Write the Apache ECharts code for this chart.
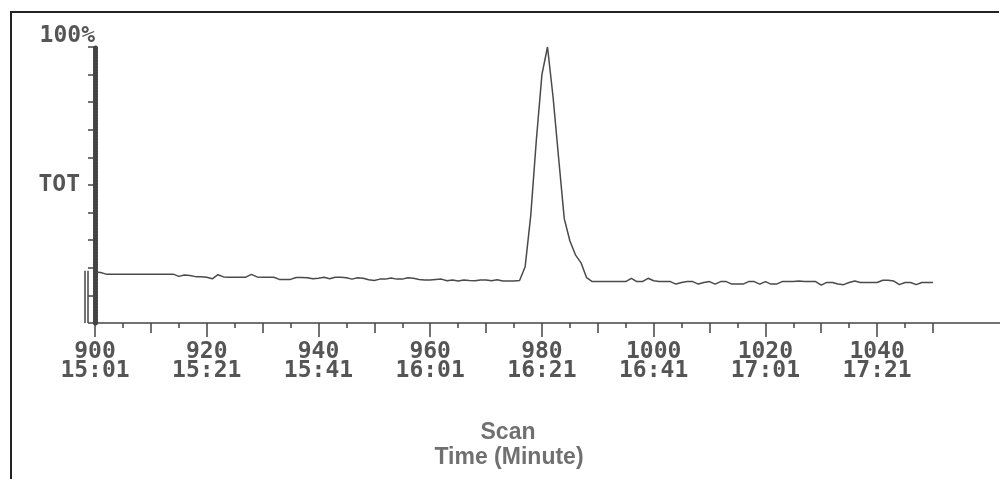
<!DOCTYPE html>
<html>
<head>
<meta charset="utf-8">
<title>TOT chromatogram</title>
<script src="https://cdn.jsdelivr.net/npm/echarts@6/dist/echarts.min.js"></script>
<style>
  html, body { margin: 0; padding: 0; background: #fff; }
  #chart { width: 1000px; height: 479px; }
</style>
</head>
<body>
<div id="chart"></div>
<script>
// scan numbers run from 900, one value per scan
const scanStart = 900;
// total ion trace, % of the largest peak
const totValues = [
  18.5, 18.3, 17.7, 17.7, 17.7, 17.7, 17.7, 17.7, 17.7, 17.7,
  17.7, 17.7, 17.7, 17.7, 17.7, 16.9, 17.4, 17.2, 16.8, 16.8,
  16.6, 16.0, 17.5, 16.7, 16.6, 16.6, 16.6, 16.6, 17.6, 16.7,
  16.6, 16.6, 16.6, 15.8, 15.8, 15.8, 16.5, 16.5, 16.4, 16.0,
  16.2, 16.6, 16.0, 16.6, 16.6, 16.4, 15.9, 16.4, 16.2, 15.7,
  15.4, 15.9, 15.9, 16.3, 15.9, 15.9, 16.4, 16.2, 15.8, 15.6,
  15.6, 15.8, 15.9, 15.3, 15.6, 15.2, 15.6, 15.4, 15.3, 15.6,
  15.6, 15.3, 15.7, 15.2, 15.2, 15.2, 15.4,
  20.4, 38.9, 66.2, 90.0, 100, 81.8, 59.6, 37.8, 29.8, 24.7, 21.8, 16.4, 15.0,
  15.0, 15.0, 15.0, 15.0, 15.0, 15.0, 16.2, 15.0, 15.0, 16.2,
  15.3, 15.0, 15.0, 15.0, 14.1, 14.7, 15.0, 15.0, 14.1, 14.7,
  15.0, 14.1, 15.0, 15.0, 14.1, 14.1, 14.1, 15.0, 15.0, 14.1,
  15.0, 14.1, 14.1, 15.0, 15.0, 15.0, 15.2, 15.0, 15.0, 15.0,
  13.7, 14.7, 14.7, 14.1, 13.9, 14.7, 15.2, 14.7, 14.7, 14.7,
  14.7, 15.5, 15.5, 15.2, 13.9, 14.7, 14.7, 13.9, 14.7, 14.7, 14.7
];

// axis ticks and their labels
const majorTicks = [900, 920, 940, 960, 980, 1000, 1020, 1040];
const timeLabels = ['15:01', '15:21', '15:41', '16:01', '16:21', '16:41', '17:01', '17:21'];
const midTicks = [910, 930, 950, 970, 990, 1010, 1030, 1050];
const minorTicks = [905, 915, 925, 935, 945, 955, 965, 975, 985, 995, 1005, 1015, 1025, 1035, 1045];
const yTicks = [0, 10, 20, 30, 40, 50, 60, 70, 80, 90, 100];
const totLevel = 50;

const ink = '#444';
const textInk = '#555';
const mono = '"DejaVu Sans Mono", monospace';

let seriesData = totValues.map((v, i) => [scanStart + i, v]);

function tickAxis(ticks, len, withLine) {
  return {
    type: 'value',
    gridIndex: 0,
    position: 'bottom',
    min: 900,
    max: 1062,
    axisLine: { show: withLine, onZero: false, lineStyle: { color: ink, width: 1.5 } },
    axisTick: { show: true, customValues: ticks, length: len, lineStyle: { color: ink, width: 1.5 } },
    axisLabel: { show: false },
    splitLine: { show: false }
  };
}

let majorAxis = tickAxis(majorTicks, 14, true);
majorAxis.axisLabel = {
  show: true,
  customValues: majorTicks,
  margin: 20,
  color: textInk,
  fontFamily: mono,
  fontWeight: 'bold',
  fontSize: 23,
  lineHeight: 19,
  formatter: function (v) {
    let i = majorTicks.indexOf(v);
    return i < 0 ? '' : v + '\n' + timeLabels[i];
  }
};

let myChart = echarts.init(document.getElementById('chart'), null, { renderer: 'canvas' });

myChart.setOption({
  animation: false,
  backgroundColor: '#fff',
  grid: { left: 95, right: 0, top: 47, bottom: 156 },
  xAxis: [majorAxis, tickAxis(midTicks, 10, false), tickAxis(minorTicks, 5, false)],
  yAxis: {
    type: 'value',
    min: 0,
    max: 100,
    interval: 10,
    name: '100%',
    nameLocation: 'end',
    nameGap: 11,
    nameTextStyle: {
      align: 'right', verticalAlign: 'middle',
      color: textInk, fontFamily: mono, fontWeight: 'bold', fontSize: 23
    },
    axisLine: { show: true, lineStyle: { color: ink, width: 5, type: [2, 1] } },
    axisTick: { show: true, customValues: yTicks, length: 7, lineStyle: { color: ink, width: 1.5 } },
    axisLabel: {
      margin: 15,
      color: textInk, fontFamily: mono, fontWeight: 'bold', fontSize: 23,
      formatter: function (v) { return v === totLevel ? 'TOT' : ''; }
    },
    splitLine: { show: false }
  },
  series: [{
    name: 'TOT',
    type: 'line',
    xAxisIndex: 0,
    yAxisIndex: 0,
    showSymbol: false,
    clip: false,
    lineStyle: { color: '#4a4a4a', width: 1.5 },
    data: seriesData
  }]
});

// frame, baseline marker bars and the two bottom captions
let origin = myChart.convertToPixel({ xAxisIndex: 0, yAxisIndex: 0 }, [scanStart, 0]);
let markTop = myChart.convertToPixel({ xAxisIndex: 0, yAxisIndex: 0 }, [scanStart, totValues[0] + 0.4]);
myChart.setOption({
  graphic: [
    { type: 'polyline', shape: { points: [[11, 479], [11, 12], [999, 12]] }, style: { stroke: '#222', lineWidth: 2, fill: null } },
    { type: 'line', shape: { x1: origin[0] - 10, y1: markTop[1], x2: origin[0] - 10, y2: origin[1] }, style: { stroke: ink, lineWidth: 1.5 } },
    { type: 'line', shape: { x1: origin[0] - 7, y1: markTop[1], x2: origin[0] - 7, y2: origin[1] }, style: { stroke: ink, lineWidth: 1.5 } },
    { type: 'text', x: 508, y: 433, style: { text: 'Scan', textAlign: 'center', textVerticalAlign: 'middle', font: 'bold 23px "Liberation Sans", Arial, sans-serif', fill: '#707070' } },
    { type: 'text', x: 509, y: 458, style: { text: 'Time (Minute)', textAlign: 'center', textVerticalAlign: 'middle', font: 'bold 23px "Liberation Sans", Arial, sans-serif', fill: '#707070' } }
  ]
});
</script>
</body>
</html>
